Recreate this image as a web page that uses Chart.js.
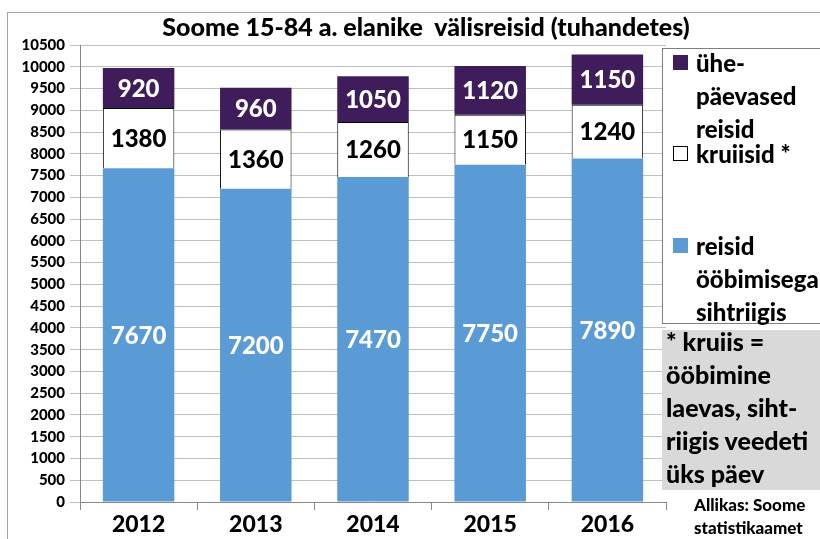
<!DOCTYPE html>
<html>
<head>
<meta charset="utf-8">
<script src="https://cdn.jsdelivr.net/npm/chart.js@4.4.0/dist/chart.umd.min.js"></script>
<style>
    body { margin: 0; background: #fff; font-family: Lato, sans-serif; font-weight: 900; color: #000; }
    #wrap { position: relative; width: 820px; height: 539px; overflow: hidden; }
    #frame { position: absolute; left: 7px; top: 12px; width: 900px; height: 600px; border: 1px solid #a6a6a6; }
    #chart { position: absolute; left: 0; top: 0; }
    #title { position: absolute; left: 0; top: 11px; width: 852px; text-align: center; font-size: 25px; line-height: 30px; white-space: pre; }
    #legend { position: absolute; left: 662px; top: 48px; width: 200px; height: 274px; border: 1px solid #7f7f7f; background: #fff; }
    .item { position: absolute; left: 10px; font-size: 24px; line-height: 33px; white-space: nowrap; }
    .sw { position: absolute; left: 0; top: 9px; width: 15px; height: 15px; box-sizing: border-box; }
    .txt { position: absolute; left: 23px; top: 0; }
    #note { position: absolute; left: 662px; top: 330px; width: 200px; height: 160px; background: #d9d9d9; font-size: 25px; line-height: 33px; padding: 0 0 0 4px; box-sizing: border-box; }
    #note div { position: relative; top: -5px; }
    #source { position: absolute; left: 694px; top: 493px; font-size: 17px; line-height: 23px; }
</style>
</head>
<body>
<div id="wrap">
    <div id="frame"></div>
    <canvas id="chart" width="820" height="539"></canvas>
    <div id="title"></div>
    <div id="legend"></div>
    <div id="note"><div id="noteText"></div></div>
    <div id="source"></div>
</div>
<script>
// --- andmed ---
const years = ['2012', '2013', '2014', '2015', '2016'];
const overnightTrips = [7670, 7200, 7470, 7750, 7890];
const cruiseTrips = [1380, 1360, 1260, 1150, 1240];
const dayTrips = [920, 960, 1050, 1120, 1150];

const titleText = 'Soome 15-84 a. elanike  välisreisid (tuhandetes)';
const legendDay = ['ühe-', 'päevased', 'reisid'];
const legendCruise = ['kruiisid *'];
const legendOvernight = ['reisid', 'ööbimisega', 'sihtriigis'];
const noteLines = ['* kruiis =', 'ööbimine', 'laevas, siht-', 'riigis veedeti', 'üks päev'];
const sourceLines = ['Allikas: Soome', 'statistikaamet'];

const BLUE = '#5b9bd5';
const PURPLE = '#3f1d5b';

document.getElementById('title').textContent = titleText;
document.getElementById('noteText').innerHTML = noteLines.join('<br>');
document.getElementById('source').innerHTML = sourceLines.join('<br>');

// legend (HTML)
const legend = document.getElementById('legend');
const addItem = (lines, top, fill, border) => {
    const div = document.createElement('div');
    div.className = 'item';
    div.style.top = top + 'px';
    div.innerHTML = `<span class="sw" style="background:${fill};border:${border}"></span><span class="txt">${lines.join('<br>')}</span>`;
    legend.appendChild(div);
};
addItem(legendDay, -3, PURPLE, 'none');
addItem(legendCruise, 88, '#fff', '1px solid #000');
addItem(legendOvernight, 180, BLUE, 'none');

// väärtused tulpade keskele
const valueLabels = {
    id: 'valueLabels',
    afterDatasetsDraw(chart) {
        const c = chart.ctx;
        c.save();
        c.font = '900 24px Lato';
        c.textAlign = 'center';
        c.textBaseline = 'middle';
        chart.data.datasets.forEach((ds, i) => {
            const meta = chart.getDatasetMeta(i);
            meta.data.forEach((bar, j) => {
                c.fillStyle = ds.labelColor;
                c.fillText(String(ds.data[j]), bar.x, (bar.y + bar.base) / 2 + 1);
            });
        });
        c.restore();
    }
};

new Chart(document.getElementById('chart'), {
    type: 'bar',
    data: {
        labels: years,
        datasets: [
            { label: 'reisid ööbimisega sihtriigis', data: overnightTrips, backgroundColor: BLUE, borderWidth: 0, labelColor: '#fff' },
            { label: 'kruiisid *', data: cruiseTrips, backgroundColor: '#fff', borderColor: '#000', borderWidth: 1, labelColor: '#000' },
            { label: 'ühepäevased reisid', data: dayTrips, backgroundColor: PURPLE, borderWidth: 0, labelColor: '#fff' }
        ]
    },
    options: {
        responsive: false,
        animation: false,
        layout: { padding: { top: 45, right: 154, left: 0, bottom: 0 } },
        datasets: { bar: { barPercentage: 0.61, categoryPercentage: 1 } },
        plugins: { legend: { display: false }, tooltip: { enabled: false } },
        scales: {
            x: {
                stacked: true,
                grid: { offset: true, drawOnChartArea: false, tickLength: 8, color: '#868686' },
                border: { color: '#868686' },
                ticks: { color: '#000', font: { family: 'Lato', size: 23, weight: '900' }, padding: 1 },
                afterFit: (s) => { s.height = 37; }
            },
            y: {
                stacked: true,
                min: 0,
                max: 10500,
                ticks: {
                    stepSize: 500,
                    autoSkip: false,
                    color: '#000',
                    font: { family: 'Lato', size: 15, weight: '900' },
                    padding: 5,
                    callback: (v) => String(v)
                },
                grid: { color: '#bfbfbf', tickLength: 10 },
                border: { color: '#868686' },
                afterFit: (s) => { s.width = 80; }
            }
        }
    },
    plugins: [valueLabels]
});
</script>
</body>
</html>
